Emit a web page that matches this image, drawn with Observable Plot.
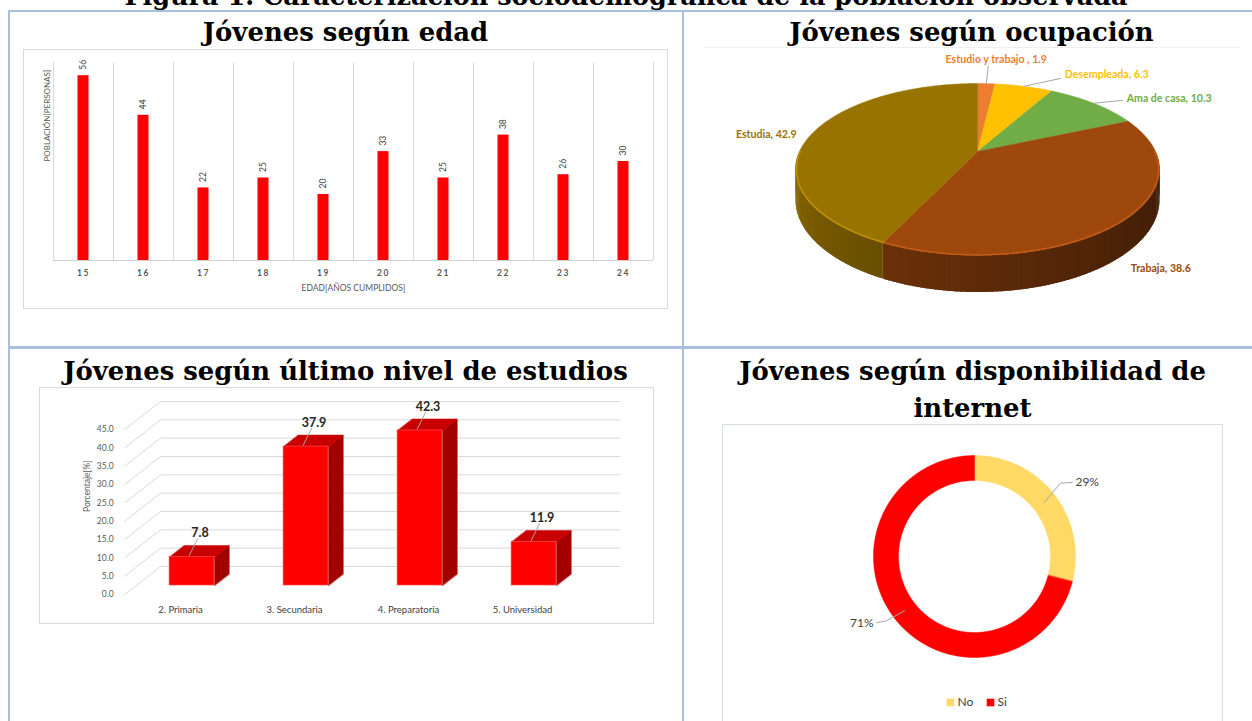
<!DOCTYPE html>
<html><head><meta charset="utf-8">
<script src="https://cdn.jsdelivr.net/npm/d3@7"></script>
<script src="https://cdn.jsdelivr.net/npm/@observablehq/plot@0.6"></script>
<style>
body{margin:0;background:#fff;}
#page{position:relative;width:1252px;height:721px;overflow:hidden;font-family:Lato,sans-serif;background:#fff;}
#page svg{position:absolute;}
</style></head>
<body><div id="page"></div>
<script>
// ---------- DATA ----------
const ageCategories = [15, 16, 17, 18, 19, 20, 21, 22, 23, 24];
const ageCounts = [56, 44, 22, 25, 20, 33, 25, 38, 26, 30];

const occupationLabels = ["Estudio y trabajo ", "Desempleada", "Ama de casa", "Trabaja", "Estudia"];
const occupationValues = [1.9, 6.3, 10.3, 38.6, 42.9];
const occupationColors = ["#ed7d31", "#ffc000", "#70ad47", "#9e480e", "#997300"];

const studyLevels = ["2. Primaria", "3. Secundaria", "4. Preparatoria", "5. Universidad"];
const studyPercents = [7.8, 37.9, 42.3, 11.9];
const percentTicks = [0, 5, 10, 15, 20, 25, 30, 35, 40, 45];

const internetLabels = ["No", "Si"];
const internetShares = [29, 71];
const internetColors = ["#ffd966", "#ff0000"];

const titles = [
  "Figura 1. Caracterización sociodemográfica de la población observada",
  "Jóvenes según edad",
  "Jóvenes según ocupación",
  "Jóvenes según último nivel de estudios",
  "Jóvenes según disponibilidad de",
  "internet"
];

// ---------- LAYOUT HELPERS ----------
const page = document.getElementById("page");
function div(l, t, w, h, css) {
  const d = document.createElement("div");
  d.style.cssText = `position:absolute;left:${l}px;top:${t}px;width:${w}px;height:${h}px;box-sizing:border-box;${css}`;
  page.appendChild(d);
  return d;
}
function put(svg, l, t) {
  svg.style.left = l + "px";
  svg.style.top = t + "px";
  page.appendChild(svg);
}
const FONT = "Lato, 'Open Sans', sans-serif";

// table borders
const TB = "#a9bfe0";
div(8, 10, 1244, 2, `background:${TB}`);
div(8, 10, 2, 711, `background:${TB}`);
div(682, 10, 2, 711, `background:${TB}`);
div(8, 346, 1244, 3, `background:${TB}`);

// chart boxes
div(23, 49, 645, 260, "border:1px solid #d9d9d9");
div(704, 47, 536, 1, "background:#eeeeee");
div(39, 387, 615, 237, "border:1px solid #d9d9d9");
div(722, 424, 501, 320, "border:1px solid #dadfe7");

// ---------- CHART 1: ages ----------
const ageData = ageCategories.map((a, i) => ({age: a, n: ageCounts[i]}));
const c1 = Plot.plot({
  width: 644, height: 259,
  marginLeft: 30, marginRight: 14, marginTop: 13, marginBottom: 48,
  x: {type: "band", domain: ageCategories, padding: 0, axis: null},
  y: {domain: [0, 60], axis: null},
  style: {background: "transparent", fontFamily: FONT, overflow: "visible"},
  marks: [
    Plot.ruleX(ageCategories, {x: d => d, dx: -30, y1: 0, y2: 60, stroke: "#d9d9d9"}),
    Plot.ruleX([ageCategories[ageCategories.length - 1]], {x: d => d, dx: 30, y1: 0, y2: 60, stroke: "#d9d9d9"}),
    Plot.ruleY([0], {stroke: "#d0d0d0"}),
    Plot.barY(ageData, {x: "age", y: "n", fill: "#ff0000", insetLeft: 24.5, insetRight: 24.5}),
    Plot.text(ageData, {x: "age", y: "n", text: d => String(d.n), rotate: -90, textAnchor: "start", dy: -6, fontSize: 8.5, fill: "#404040"}),
    Plot.text(ageData, {x: "age", y: 0, text: d => String(d.age), dy: 13, fontSize: 8.5, fontWeight: "bold", fill: "#595959"}),
    Plot.text(["EDAD[AÑOS CUMPLIDOS]"], {frameAnchor: "bottom", dy: 30, fontSize: 8.5, fill: "#595959"}),
    Plot.text(["POBLACIÓN[PERSONAS]"], {frameAnchor: "left", dx: -6, rotate: -90, fontSize: 8, fill: "#595959"})
  ]
});
{
  const tg = c1.querySelectorAll('g[aria-label="text"]');
  if (tg[1]) tg[1].setAttribute("letter-spacing", "1.5");
}
put(c1, 23, 49);

// ---------- CHART 2: 3D pie ----------
const PC = {cx: 277, cy: 103, A: 178, B: 82.2, k: 0.209, D: 29};
function proj(theta, r = 1, h = 0) {
  const u = r * Math.sin(theta), v = -r * Math.cos(theta);
  const s = 1 / (1 - PC.k * v);
  return [PC.cx + PC.A * u * s, PC.cy + PC.B * v * s + h * PC.D * s];
}
const pieArcs = d3.pie().sort(null).value(d => d)(occupationValues);
const topPts = [], sidePts = [], rimPts = [];
const STEP = 0.01;
pieArcs.forEach((a, i) => {
  const id = "t" + i;
  const c = occupationColors[i];
  const [ax, ay] = proj(0, 0);
  topPts.push({id, x: ax, y: ay, fill: c});
  const n = Math.max(2, Math.ceil((a.endAngle - a.startAngle) / STEP));
  for (let j = 0; j <= n; j++) {
    const th = a.startAngle + (a.endAngle - a.startAngle) * j / n;
    const [x, y] = proj(th);
    topPts.push({id, x, y, fill: c});
  }
  // side strips on the visible near half (slightly overlapping to avoid seams)
  const s0 = Math.max(a.startAngle, Math.PI / 2), s1 = Math.min(a.endAngle, 3 * Math.PI / 2);
  if (s1 > s0) {
    const m = Math.max(1, Math.ceil((s1 - s0) / 0.02));
    for (let j = 0; j < m; j++) {
      const t0 = s0 + (s1 - s0) * j / m;
      const t1 = Math.min(s1, s0 + (s1 - s0) * (j + 1) / m + 0.012);
      const deg = (t0 + t1) / 2 * 180 / Math.PI;
      const f = Math.min(2.8, Math.max(0.3, 1.1 + (205 - deg) * 0.0143));
      const col = d3.color(c).darker(f).formatHex();
      const sid = "s" + i + "_" + j;
      const steps = 3;
      for (let q = 0; q <= steps; q++) {
        const [x, y] = proj(t0 + (t1 - t0) * q / steps, 1, 0);
        sidePts.push({id: sid, x, y, fill: col});
      }
      for (let q = steps; q >= 0; q--) {
        const [x, y] = proj(t0 + (t1 - t0) * q / steps, 1, 1);
        sidePts.push({id: sid, x, y, fill: col});
      }
    }
    const rc = d3.color(c).brighter(0.7).formatHex();
    const mr = Math.max(2, Math.ceil((s1 - s0) / STEP));
    for (let j = 0; j <= mr; j++) {
      const th = s0 + (s1 - s0) * j / mr;
      const [x, y] = proj(th, 0.995);
      rimPts.push({id: "r" + i, x, y, stroke: rc});
    }
  }
});
// label styling (offsets from the slice edge anchor)
const pieLabelStyle = [
  {dx: 10, dy: -24, anchor: "middle", leader: [2, -18]},
  {dx: 41, dy: -12, anchor: "start", leader: [37, -8]},
  {dx: 33, dy: -5, anchor: "start", leader: [29, -3]},
  {dx: 8, dy: 47, anchor: "start", leader: null},
  {dx: -15, dy: 0, anchor: "end", leader: null}
];
const pieLabels = pieArcs.map((a, i) => {
  const mid = (a.startAngle + a.endAngle) / 2;
  const [x, y] = proj(mid);
  return {x, y, text: occupationLabels[i] + ", " + occupationValues[i].toFixed(1), color: occupationColors[i], st: pieLabelStyle[i]};
});
const pieLeaders = pieLabels.filter(d => d.st.leader).map(d => ({x1: d.x, y1: d.y, x2: d.x + d.st.leader[0], y2: d.y + d.st.leader[1]}));
const c2 = Plot.plot({
  width: 550, height: 290, margin: 0,
  x: {domain: [0, 550], axis: null},
  y: {domain: [0, 290], range: [0, 290], axis: null},
  color: {type: "identity"},
  style: {background: "transparent", fontFamily: FONT, overflow: "visible"},
  marks: [
    Plot.line(sidePts, {x: "x", y: "y", z: "id", fill: "fill", stroke: "none", curve: "linear-closed"}),
    Plot.line(topPts, {x: "x", y: "y", z: "id", fill: "fill", stroke: "fill", strokeWidth: 0.5, curve: "linear-closed"}),
    Plot.line(rimPts, {x: "x", y: "y", z: "id", stroke: "stroke", strokeWidth: 1.2}),
    Plot.link(pieLeaders, {x1: "x1", y1: "y1", x2: "x2", y2: "y2", stroke: "#a6a6a6", strokeWidth: 1}),
    ...pieLabels.map(d => Plot.text([d], {x: "x", y: "y", dx: d.st.dx, dy: d.st.dy, text: "text", textAnchor: d.st.anchor, fill: "color", fontSize: 10.6, fontWeight: "bold"}))
  ]
});
put(c2, 700, 48);

// ---------- CHART 3: 3D columns ----------
const f1 = 0.32, f2 = 0.73, DX = 0.316, DY = 7.64, HW = 0.197, XL = -0.49, XR = 3.85;
const studyData = studyLevels.map((name, i) => ({i, name, v: studyPercents[i]}));
const gridPts = [];
percentTicks.forEach(t => {
  gridPts.push({id: t, x: XL, y: t});
  gridPts.push({id: t, x: XL + DX, y: t + DY});
  gridPts.push({id: t, x: XR, y: t + DY});
});
const ddx = (f2 - f1) * DX, ddy = (f2 - f1) * DY;
const barTops = [], barSides = [];
studyData.forEach(d => {
  const x1 = d.i + f1 * DX - HW, x2 = d.i + f1 * DX + HW, yT = d.v + f1 * DY, yB = f1 * DY;
  [[x1, yT], [x2, yT], [x2 + ddx, yT + ddy], [x1 + ddx, yT + ddy]].forEach(([x, y]) => barTops.push({id: d.i, x, y}));
  [[x2, yB], [x2, yT], [x2 + ddx, yT + ddy], [x2 + ddx, yB + ddy]].forEach(([x, y]) => barSides.push({id: d.i, x, y}));
});
const c3 = Plot.plot({
  width: 614, height: 236,
  marginLeft: 141, marginRight: 131, marginTop: 42, marginBottom: 29,
  x: {domain: [0, 3], axis: null},
  y: {domain: [0, 45], axis: null},
  style: {background: "transparent", fontFamily: FONT, overflow: "visible"},
  marks: [
    Plot.line(gridPts, {x: "x", y: "y", z: "id", stroke: "#d9d9d9", strokeWidth: 1}),
    Plot.line(barSides, {x: "x", y: "y", z: "id", fill: "#a30000", stroke: "#a30000", strokeWidth: 0.5, curve: "linear-closed"}),
    Plot.line(barTops, {x: "x", y: "y", z: "id", fill: "#c80000", stroke: "#c80000", strokeWidth: 0.5, curve: "linear-closed"}),
    Plot.rect(studyData, {x1: d => d.i + f1 * DX - HW, x2: d => d.i + f1 * DX + HW, y1: f1 * DY, y2: d => d.v + f1 * DY, fill: "#ff0000", stroke: "#ff5a5a", strokeWidth: 0.6}),
    Plot.link(studyData, {x1: d => d.i + f1 * DX - 0.026, y1: d => d.v + f1 * DY + 0.3, x2: d => d.i + f1 * DX + 0.05, y2: d => d.v + f2 * DY + 1.9, stroke: "#a6a6a6"}),
    Plot.text(studyData, {x: d => d.i + f1 * DX + 0.07, y: d => d.v + f2 * DY + 3.3, text: d => d.v.toFixed(1), fontSize: 12.5, fontWeight: "bold", fill: "#262626"}),
    Plot.text(percentTicks, {x: XL, y: d => d, dx: -11, textAnchor: "end", text: d => d.toFixed(1), fontSize: 8.5, fill: "#595959"}),
    Plot.text(studyData, {x: "i", y: 0, dy: 15, text: "name", fontSize: 9.5, fill: "#404040"}),
    Plot.text(["Porcentaje[%]"], {frameAnchor: "left", dx: -93, rotate: -90, fontSize: 8.5, fill: "#595959"})
  ]
});
put(c3, 39, 387);

// ---------- CHART 4: donut ----------
const DC = {cx: 252, cy: 132, ro: 101, ri: 76};
function dp(theta, r) { return [DC.cx + r * Math.sin(theta), DC.cy - r * Math.cos(theta)]; }
const donutArcs = d3.pie().sort(null).value(d => d)(internetShares);
const ringPts = [];
donutArcs.forEach((a, i) => {
  const n = Math.ceil((a.endAngle - a.startAngle) / 0.01);
  for (let j = 0; j <= n; j++) {
    const [x, y] = dp(a.startAngle + (a.endAngle - a.startAngle) * j / n, DC.ro);
    ringPts.push({id: i, x, y, fill: internetColors[i]});
  }
  for (let j = n; j >= 0; j--) {
    const [x, y] = dp(a.startAngle + (a.endAngle - a.startAngle) * j / n, DC.ri);
    ringPts.push({id: i, x, y, fill: internetColors[i]});
  }
});
const donutLabelStyle = [
  {bend: [16, -19], end: [28, -20], dx: 3, anchor: "start"},
  {bend: [-18, 10], end: [-28, 12], dx: -3, anchor: "end"}
];
const donutLabels = donutArcs.map((a, i) => {
  const [x, y] = dp((a.startAngle + a.endAngle) / 2, (DC.ro + DC.ri) / 2);
  const st = donutLabelStyle[i];
  return {i, x, y, st, lx: x + st.end[0], ly: y + st.end[1], text: internetShares[i] + "%"};
});
const leaderPts = [];
donutLabels.forEach(d => {
  leaderPts.push({id: d.i, x: d.x, y: d.y});
  leaderPts.push({id: d.i, x: d.x + d.st.bend[0], y: d.y + d.st.bend[1]});
  leaderPts.push({id: d.i, x: d.lx, y: d.ly});
});
const legendX0 = 228, legendStep = 40, legendY = 278;
const legendData = internetLabels.map((name, i) => ({name, color: internetColors[i], x: legendX0 + legendStep * i}));
const c4 = Plot.plot({
  width: 500, height: 300, margin: 0,
  x: {domain: [0, 500], axis: null},
  y: {domain: [0, 300], range: [0, 300], axis: null},
  color: {type: "identity"},
  style: {background: "transparent", fontFamily: FONT, overflow: "visible"},
  marks: [
    Plot.line(ringPts, {x: "x", y: "y", z: "id", fill: "fill", stroke: "fill", strokeWidth: 0.5, curve: "linear-closed"}),
    Plot.line(leaderPts, {x: "x", y: "y", z: "id", stroke: "#a6a6a6", strokeWidth: 1}),
    ...donutLabels.map(d => Plot.text([d], {x: "lx", y: "ly", dx: d.st.dx, text: "text", textAnchor: d.st.anchor, fontSize: 12, fill: "#404040"})),
    Plot.dot(legendData, {x: "x", y: legendY, symbol: "square", r: 4.3, fill: "color", stroke: null}),
    Plot.text(legendData, {x: "x", y: legendY, dx: 7, text: "name", textAnchor: "start", fontSize: 12, fill: "#404040"})
  ]
});
put(c4, 722, 424);

// ---------- TITLES (plain SVG text, fitted to width) ----------
const NS = "http://www.w3.org/2000/svg";
const tsvg = document.createElementNS(NS, "svg");
tsvg.setAttribute("width", 1252); tsvg.setAttribute("height", 721);
tsvg.style.cssText = "position:absolute;left:0;top:0;pointer-events:none;overflow:visible";
page.appendChild(tsvg);
const titleLayout = [
  {cx: 626, base: 5, w: 1004},
  {cx: 345.5, base: 41, w: 285},
  {cx: 971.5, base: 41, w: 363},
  {cx: 345.5, base: 380, w: 566},
  {cx: 972.5, base: 380, w: 471},
  {cx: 972.5, base: 417, w: 119}
];
const tEls = titles.map((t, i) => {
  const el = document.createElementNS(NS, "text");
  el.textContent = t;
  el.setAttribute("x", titleLayout[i].cx);
  el.setAttribute("y", titleLayout[i].base);
  el.setAttribute("text-anchor", "middle");
  el.setAttribute("font-family", "'DejaVu Serif', serif");
  el.setAttribute("font-weight", "bold");
  el.setAttribute("font-size", 24);
  el.setAttribute("fill", "#000");
  tsvg.appendChild(el);
  return el;
});
const sizes = tEls.map((el, i) => 24 * titleLayout[i].w / el.getComputedTextLength());
const cellSize = d3.median(sizes.slice(1, 5));
tEls.forEach((el, i) => el.setAttribute("font-size", i === 0 ? sizes[0] : cellSize));
</script>
</body></html>
